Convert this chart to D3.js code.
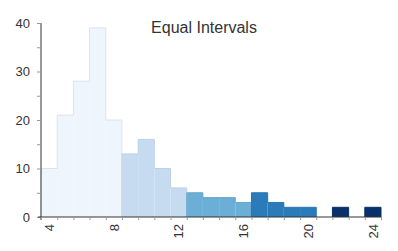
<!DOCTYPE html>
<html>
<head>
<meta charset="utf-8">
<script src="https://cdn.jsdelivr.net/npm/d3@7"></script>
<style>
  body { margin: 0; background: #fff; }
  svg { font-family: "Liberation Sans", Arial, sans-serif; }
</style>
</head>
<body>
<svg id="chart" width="398" height="251"></svg>
<script>
// histogram bins (value centered on each integer)
const bins = [4, 5, 6, 7, 8, 9, 10, 11, 12, 13, 14, 15, 16, 17, 18, 19, 20, 21, 22, 23, 24];
const counts = [10, 21, 28, 39, 20, 13, 16, 10, 6, 5, 4, 4, 3, 5, 3, 2, 2, 0, 2, 0, 2];
// equal interval classes: upper bound of each class
const classBreaks = [8, 12, 16, 20, 24];
const classColors = ["#eff5fc", "#c6dbef", "#6baed6", "#2b7bbb", "#08306b"];
const xTickLabels = [4, 8, 12, 16, 20, 24];
const yTicks = [0, 10, 20, 30, 40];
const title = "Equal Intervals";

const svg = d3.select("#chart");

const x = d3.scaleLinear().domain([3.5, 24.5]).range([41, 381]);
const y = d3.scaleLinear().domain([0, 40]).range([217, 23]);

function classOf(v) {
  for (let i = 0; i < classBreaks.length; i++) {
    if (v <= classBreaks[i]) return i;
  }
  return classBreaks.length - 1;
}

const data = bins.map((b, i) => ({ b: b, c: counts[i], k: classOf(b) }));

// bars (no stroke, outline drawn separately as a step line)
svg.append("g")
  .selectAll("rect")
  .data(data.filter(d => d.c > 0))
  .enter()
  .append("rect")
  .attr("x", d => x(d.b - 0.5))
  .attr("width", d => x(d.b + 0.5) - x(d.b - 0.5))
  .attr("y", d => y(d.c))
  .attr("height", d => y(0) - y(d.c))
  .attr("fill", d => classColors[d.k]);

// step outline for each contiguous run of non-empty bins in one class
const runs = [];
let cur = null;
data.forEach(d => {
  if (d.c > 0 && cur && cur.k === d.k) {
    cur.items.push(d);
  } else if (d.c > 0) {
    cur = { k: d.k, items: [d] };
    runs.push(cur);
  } else {
    cur = null;
  }
});
runs.forEach(r => {
  const pts = [];
  r.items.forEach(d => {
    pts.push([x(d.b - 0.5), y(d.c)]);
    pts.push([x(d.b + 0.5), y(d.c)]);
  });
  const outline = [[pts[0][0], y(0)]].concat(pts, [[pts[pts.length - 1][0], y(0)]]);
  svg.append("path")
    .attr("d", d3.line()(outline))
    .attr("fill", "none")
    .attr("stroke", r.k === 0 ? "#dde3ec" : d3.color(classColors[r.k]).darker(0.12))
    .attr("stroke-width", 1);
});

// y axis: major + minor ticks
const yAxis = svg.append("g").attr("transform", "translate(" + x(3.5) + ",0)");
yAxis.call(d3.axisLeft(y).tickValues(d3.range(0, 41, 5)).tickSize(4).tickFormat(""))
  .call(g => g.select(".domain").attr("stroke", "#333").attr("d", "M0," + (y(0) + 3) + "V" + y(40)))
  .call(g => g.selectAll(".tick line").attr("stroke", "#999"));
yAxis.selectAll("text.lbl")
  .data(yTicks)
  .enter()
  .append("text")
  .attr("class", "lbl")
  .attr("x", -11)
  .attr("y", d => y(d))
  .attr("dy", "0.36em")
  .attr("text-anchor", "end")
  .attr("fill", "#333")
  .style("font-size", "13px")
  .text(d => d);

// x axis: ticks at bin edges, labels at bin centers
const xAxis = svg.append("g").attr("transform", "translate(0," + y(0) + ")");
xAxis.call(d3.axisBottom(x).tickValues(d3.range(3.5, 24.6, 1)).tickSize(3).tickFormat(""))
  .call(g => g.select(".domain").attr("stroke", "#333").attr("stroke-width", 1.2).attr("d", "M" + (x(3.5) - 3) + ",0H" + x(24.5)))
  .call(g => g.selectAll(".tick line").attr("stroke", "#999"));
xAxis.selectAll("text.lbl")
  .data(xTickLabels)
  .enter()
  .append("text")
  .attr("class", "lbl")
  .attr("transform", d => "translate(" + x(d) + ",7) rotate(-90)")
  .attr("dy", "0.36em")
  .attr("text-anchor", "end")
  .attr("fill", "#333")
  .style("font-size", "13px")
  .text(d => d);

// title
svg.append("text")
  .attr("x", 204)
  .attr("y", 33)
  .attr("text-anchor", "middle")
  .attr("fill", "#333")
  .style("font-size", "16px")
  .text(title);
</script>
</body>
</html>
